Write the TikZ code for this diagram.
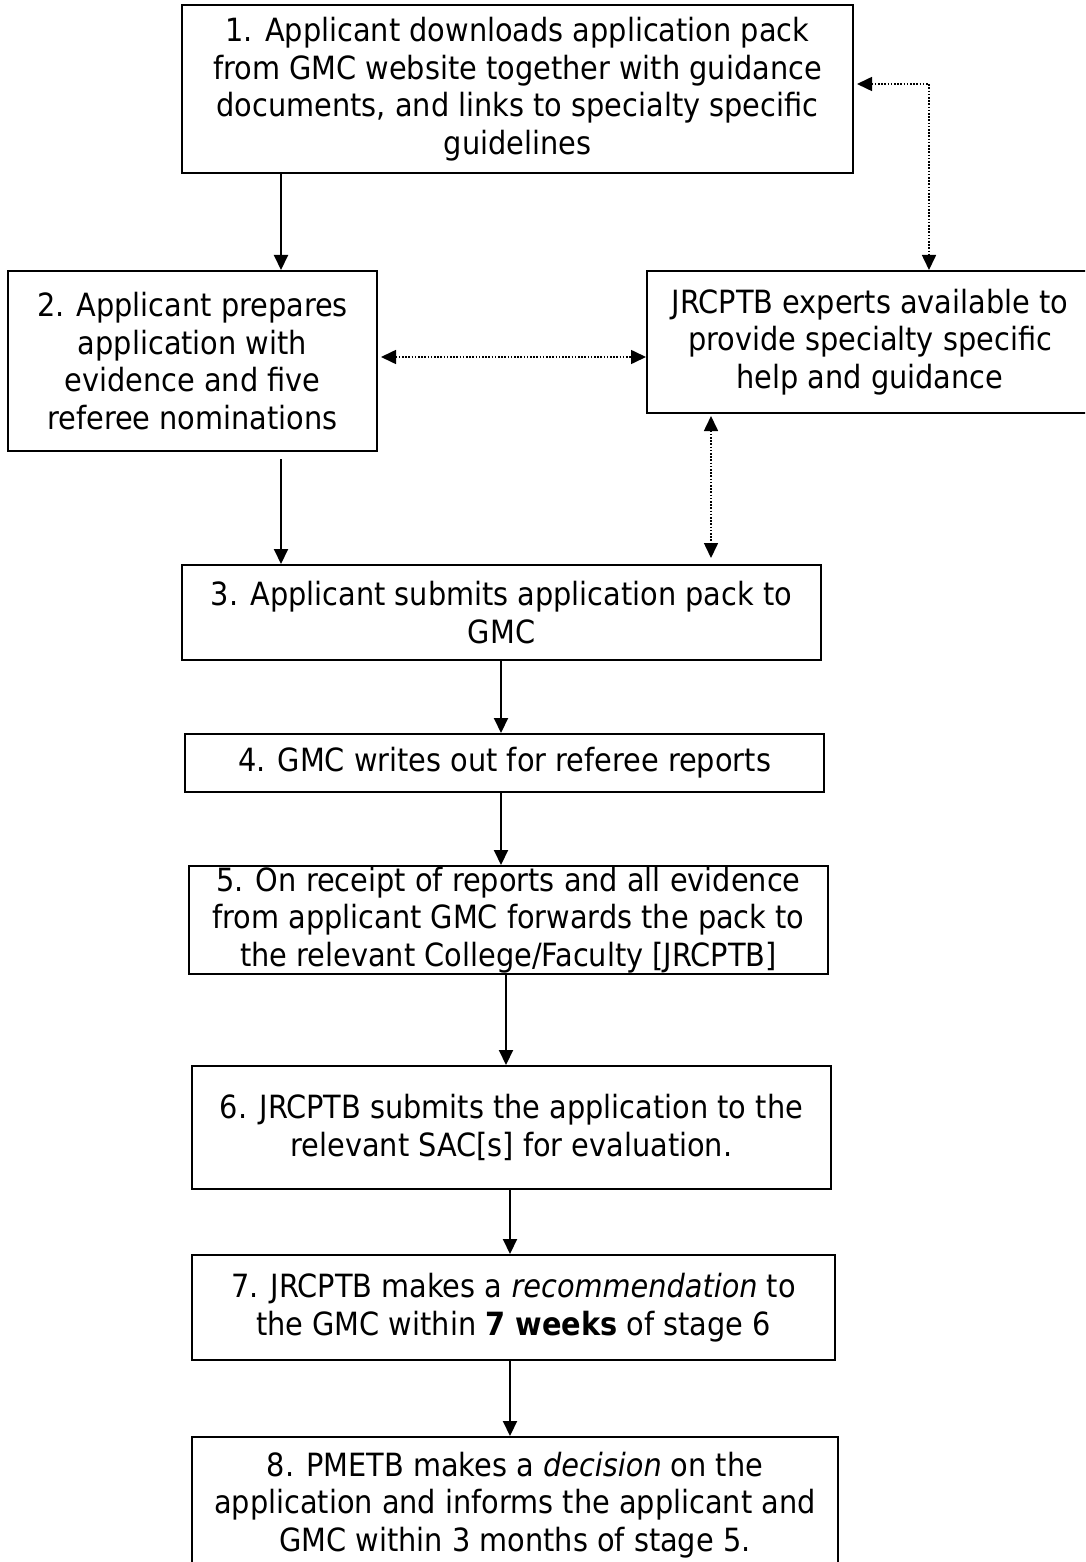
\documentclass[tikz,border=0pt]{standalone}
\usepackage{fontspec}
\setmainfont{DejaVu Sans Condensed}
\usetikzlibrary{arrows.meta}
\begin{document}
\begin{tikzpicture}[x=1pt,y=-1pt,
  stage/.style={draw=black,line width=2pt,align=center,inner sep=0pt,
    font=\fontsize{32}{37.5}\selectfont},
  arr/.style={line width=2pt,-{Triangle[length=15pt,width=14pt]}},
  darr/.style={line width=1.6pt,dash pattern=on 1.6pt off 1.6pt,
    {Triangle[length=15pt,width=14pt]}-{Triangle[length=15pt,width=14pt]}}]
\useasboundingbox (0,0) rectangle (1085,1562);
\clip (0,0) rectangle (1085,1562);
\node[stage,minimum width=671pt,minimum height=168pt] (b1) at (517.5,89)
  {1. Applicant downloads application pack\\from GMC website together with guidance\\documents, and links to specialty specific\\guidelines};
\node[stage,minimum width=369pt,minimum height=180pt] (b2) at (192.5,361)
  {2. Applicant prepares\\application with\\evidence and five\\referee nominations};
\node[stage,minimum width=446pt,minimum height=142pt] (jr) at (870,342)
  {JRCPTB experts available to\\provide specialty specific\\help and guidance};
\node[stage,minimum width=639pt,minimum height=95pt] (b3) at (501.5,612.5)
  {3. Applicant submits application pack to\\GMC};
\node[stage,minimum width=639pt,minimum height=58pt] (b4) at (504.5,763)
  {4. GMC writes out for referee reports};
\node[stage,minimum width=639pt,minimum height=108pt] (b5) at (508.5,920)
  {5. On receipt of reports and all evidence\\from applicant GMC forwards the pack to\\the relevant College/Faculty [JRCPTB]};
\node[stage,minimum width=639pt,minimum height=123pt] (b6) at (511.5,1127.5)
  {6. JRCPTB submits the application to the\\relevant SAC[s] for evaluation.};
\node[stage,minimum width=643pt,minimum height=105pt] (b7) at (513.5,1307.5)
  {7. JRCPTB makes a \textit{recommendation} to\\the GMC within \textbf{7 weeks} of stage 6};
\node[stage,minimum width=646pt,minimum height=136pt] (b8) at (515,1505)
  {8. PMETB makes a \textit{decision} on the\\application and informs the applicant and\\GMC within 3 months of stage 5.};
\coordinate (xa) at (281,0);
\coordinate (xb) at (501,0);
\coordinate (xc) at (506,0);
\coordinate (xd) at (510,0);
\coordinate (xe) at (929,0);
\coordinate (xf) at (711,0);
\coordinate (ya) at (0,357);
\coordinate (yb) at (0,84);
\draw[arr] (b1.south -| xa) -- (b2.north -| xa);
\draw[arr] ([yshift=-7pt]b2.south -| xa) -- (b3.north -| xa);
\draw[arr] (b3.south -| xb) -- (b4.north -| xb);
\draw[arr] (b4.south -| xb) -- (b5.north -| xb);
\draw[arr] (b5.south -| xc) -- (b6.north -| xc);
\draw[arr] (b6.south -| xd) -- (b7.north -| xd);
\draw[arr] (b7.south -| xd) -- (b8.north -| xd);
\draw[darr] ([xshift=3pt]b1.east |- yb) -| (jr.north -| xe);
\draw[darr] ([xshift=3pt]b2.east |- ya) -- (jr.west |- ya);
\draw[darr] ([yshift=-2pt]jr.south -| xf) -- ([yshift=6pt]b3.north -| xf);
\end{tikzpicture}
\end{document}
